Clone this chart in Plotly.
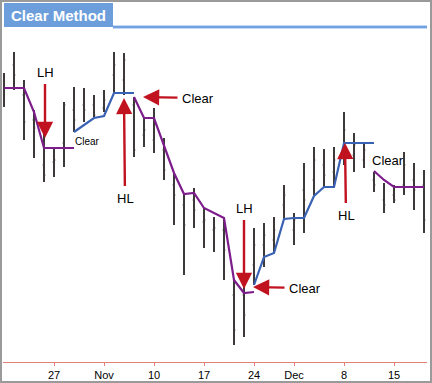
import plotly.graph_objects as go

# ---------------- data ----------------
dates = (["Oct 20", "Oct 21", "Oct 22", "Oct 23", "Oct 24",
          "Oct 27", "Oct 28", "Oct 29", "Oct 30", "Oct 31",
          "Nov 3", "Nov 4", "Nov 5", "Nov 6", "Nov 7",
          "Nov 10", "Nov 11", "Nov 12", "Nov 13", "Nov 14",
          "Nov 17", "Nov 18", "Nov 19", "Nov 20", "Nov 21",
          "Nov 24", "Nov 25", "Nov 26", "Nov 28",
          "Dec 1", "Dec 2", "Dec 3", "Dec 4", "Dec 5",
          "Dec 8", "Dec 9", "Dec 10", "Dec 11", "Dec 12",
          "Dec 15", "Dec 16", "Dec 17", "Dec 18"])

high = [32.7, 34.8, 32.0, 29.0, 27.7, 25.3, 29.8, 31.3, 31.2, 30.5,
        31.0, 34.8, 34.7, 30.3, 28.2, 29.2, 26.2, 22.7, 20.7, 21.2,
        19.2, 18.3, 18.2, 12.0, 11.7, 17.2, 17.7, 18.3, 21.5, 18.7,
        23.7, 25.3, 25.1, 25.3, 28.8, 26.7, 25.8, 22.8, 21.7, 21.5,
        24.8, 23.7, 23.0]
low = [29.3, 31.0, 26.0, 24.2, 21.8, 22.3, 23.3, 26.8, 27.8, 28.3,
       28.8, 30.7, 30.5, 24.3, 25.3, 24.7, 22.0, 17.5, 12.5, 17.2,
       15.2, 14.8, 12.0, 5.5, 6.3, 11.5, 13.3, 14.7, 18.0, 15.5,
       16.7, 20.5, 21.3, 21.3, 23.5, 22.8, 23.2, 20.8, 18.7, 19.7,
       20.5, 19.0, 16.7]
open_ = [31.7, 33.5, 30.5, 28.0, 23.5, 23.8, 25.7, 29.0, 29.5, 29.5,
         29.2, 32.5, 32.0, 29.5, 26.5, 26.0, 25.0, 21.5, 19.5, 20.0,
         17.8, 17.0, 17.0, 10.5, 10.5, 13.5, 15.5, 16.0, 19.5, 17.0,
         21.0, 22.0, 23.5, 22.8, 25.0, 24.5, 24.0, 22.0, 20.0, 20.5,
         21.5, 22.0, 21.5]
close = [31.2, 32.5, 27.8, 27.2, 22.5, 24.0, 29.5, 28.0, 29.0, 28.5,
         30.0, 33.5, 34.0, 25.0, 27.0, 27.5, 23.0, 20.5, 17.5, 19.0,
         18.0, 17.2, 15.0, 7.0, 8.5, 15.5, 16.5, 17.0, 20.5, 18.0,
         20.0, 24.0, 22.5, 24.0, 27.0, 25.5, 25.0, 21.5, 19.5, 20.0,
         23.5, 21.0, 18.0]

N = None
clear_down = [31.2, 31.2, 31.2, 28.8, 25.2, 25.2, 25.2, 25.2, N, N,
              N, N, N, 30.3, 28.2, 28.2, 25.5, 22.7, 20.6, 20.7,
              19.2, 18.7, 18.2, 12.0, 10.7, 10.8, N, N, N, N,
              N, N, N, N, N, N, N, 22.9, 22.0, 21.3,
              21.3, 21.3, 21.3]
clear_up = [N, N, N, N, N, N, N, 26.8, 27.5, 28.2,
            28.4, 30.7, 30.7, 30.7, N, N, N, N, N, N,
            N, N, N, N, N, 11.5, 14.3, 14.7, 18.1, 18.2,
            18.2, 20.4, 21.3, 21.3, 25.7, 25.7, 25.7, 25.7, N, N,
            N, N, N]

tick_dates = ["Oct 27", "Nov 3", "Nov 10", "Nov 17", "Nov 24", "Dec 1", "Dec 8", "Dec 15"]
tick_text = ["27", "Nov", "10", "17", "24", "Dec", "8", "15"]

# ---------------- figure ----------------
idx = list(range(len(dates)))
tickvals = [dates.index(d) for d in tick_dates]

W, H = 432, 383
ML, MR, MT, MB = 3, 5, 30, 21
PW, PH = W - ML - MR, H - MT - MB


def xp(px):
    return (px - ML) / PW


def yp(py):
    return (H - MB - py) / PH


fig = go.Figure()
fig.add_trace(go.Ohlc(
    x=idx, open=open_, high=high, low=low, close=close,
    increasing=dict(line=dict(color="#3d3939", width=2)),
    decreasing=dict(line=dict(color="#3d3939", width=2)),
    tickwidth=0.12, showlegend=False, hoverinfo="skip"))
fig.add_trace(go.Scatter(x=idx, y=clear_down, mode="lines",
                         line=dict(color="#7d1d8c", width=2.2),
                         connectgaps=False, showlegend=False, hoverinfo="skip"))
fig.add_trace(go.Scatter(x=idx, y=clear_up, mode="lines",
                         line=dict(color="#3a62b4", width=2.2),
                         connectgaps=False, showlegend=False, hoverinfo="skip"))

RED = "#c1121f"
FONT = "Liberation Sans, Arial, sans-serif"


def arrow(x, y, text, ax, ay, size=13):
    return dict(x=x, y=y, xref="x", yref="y", text=text, showarrow=True,
                ax=ax, ay=ay, arrowhead=2, arrowsize=1.35, arrowwidth=2.4,
                arrowcolor=RED, standoff=0, startstandoff=3,
                font=dict(family=FONT, size=size, color="black"))


annotations = [
    arrow(4.1, 26.2, "LH", 0, -66),
    arrow(12.0, 30.2, "HL", 1, 100),
    arrow(13.9, 30.3, "Clear", 55, 1),
    arrow(24.0, 11.1, "LH", 0, -81),
    arrow(24.9, 11.3, "Clear", 52, 1),
    arrow(34.1, 25.7, "HL", 1, 72),
    dict(x=8.3, y=25.9, xref="x", yref="y", text="Clear", showarrow=False,
         font=dict(family=FONT, size=10, color="black")),
    dict(x=38.4, y=24.0, xref="x", yref="y", text="Clear", showarrow=False,
         font=dict(family=FONT, size=13, color="black")),
    dict(x=xp(9), y=yp(15), xref="paper", yref="paper", text="<b>Clear Method</b>",
         showarrow=False, xanchor="left", yanchor="middle",
         font=dict(family=FONT, size=15, color="white")),
]

shapes = [
    dict(type="rect", xref="paper", yref="paper", x0=xp(4), x1=xp(113), y0=yp(27), y1=yp(3),
         fillcolor="#6c9edb", line=dict(width=0), layer="below"),
    dict(type="line", xref="paper", yref="paper", x0=xp(113), x1=xp(427), y0=yp(27), y1=yp(27),
         line=dict(color="#86b1ea", width=3)),
    dict(type="line", xref="paper", yref="paper", x0=xp(113), x1=xp(427), y0=yp(27), y1=yp(27),
         line=dict(color="#5f93d8", width=1)),
    dict(type="rect", xref="paper", yref="paper", x0=xp(1), x1=xp(431), y0=yp(382), y1=yp(1),
         line=dict(color="#9a9a9a", width=2), fillcolor="rgba(0,0,0,0)"),
]

fig.update_layout(
    width=W, height=H,
    margin=dict(l=ML, r=MR, t=MT, b=MB, pad=0),
    paper_bgcolor="white", plot_bgcolor="white",
    annotations=annotations, shapes=shapes,
    showlegend=False,
    font=dict(family=FONT, color="black"),
    xaxis=dict(range=[-0.1, 42.3], rangeslider=dict(visible=False),
               tickvals=tickvals, ticktext=tick_text,
               showgrid=False, zeroline=False,
               showline=True, linecolor="#e38079", linewidth=1,
               ticks="outside", ticklen=3, tickcolor="#e38079",
               tickfont=dict(family=FONT, size=11, color="black")),
    yaxis=dict(range=[(400 - 362) / 10, (400 - 30) / 10], visible=False,
               showgrid=False, zeroline=False),
)

fig.write_html("out.html", config={"displayModeBar": False},
               post_script="document.body.style.margin='0';document.body.style.overflow='hidden';")
